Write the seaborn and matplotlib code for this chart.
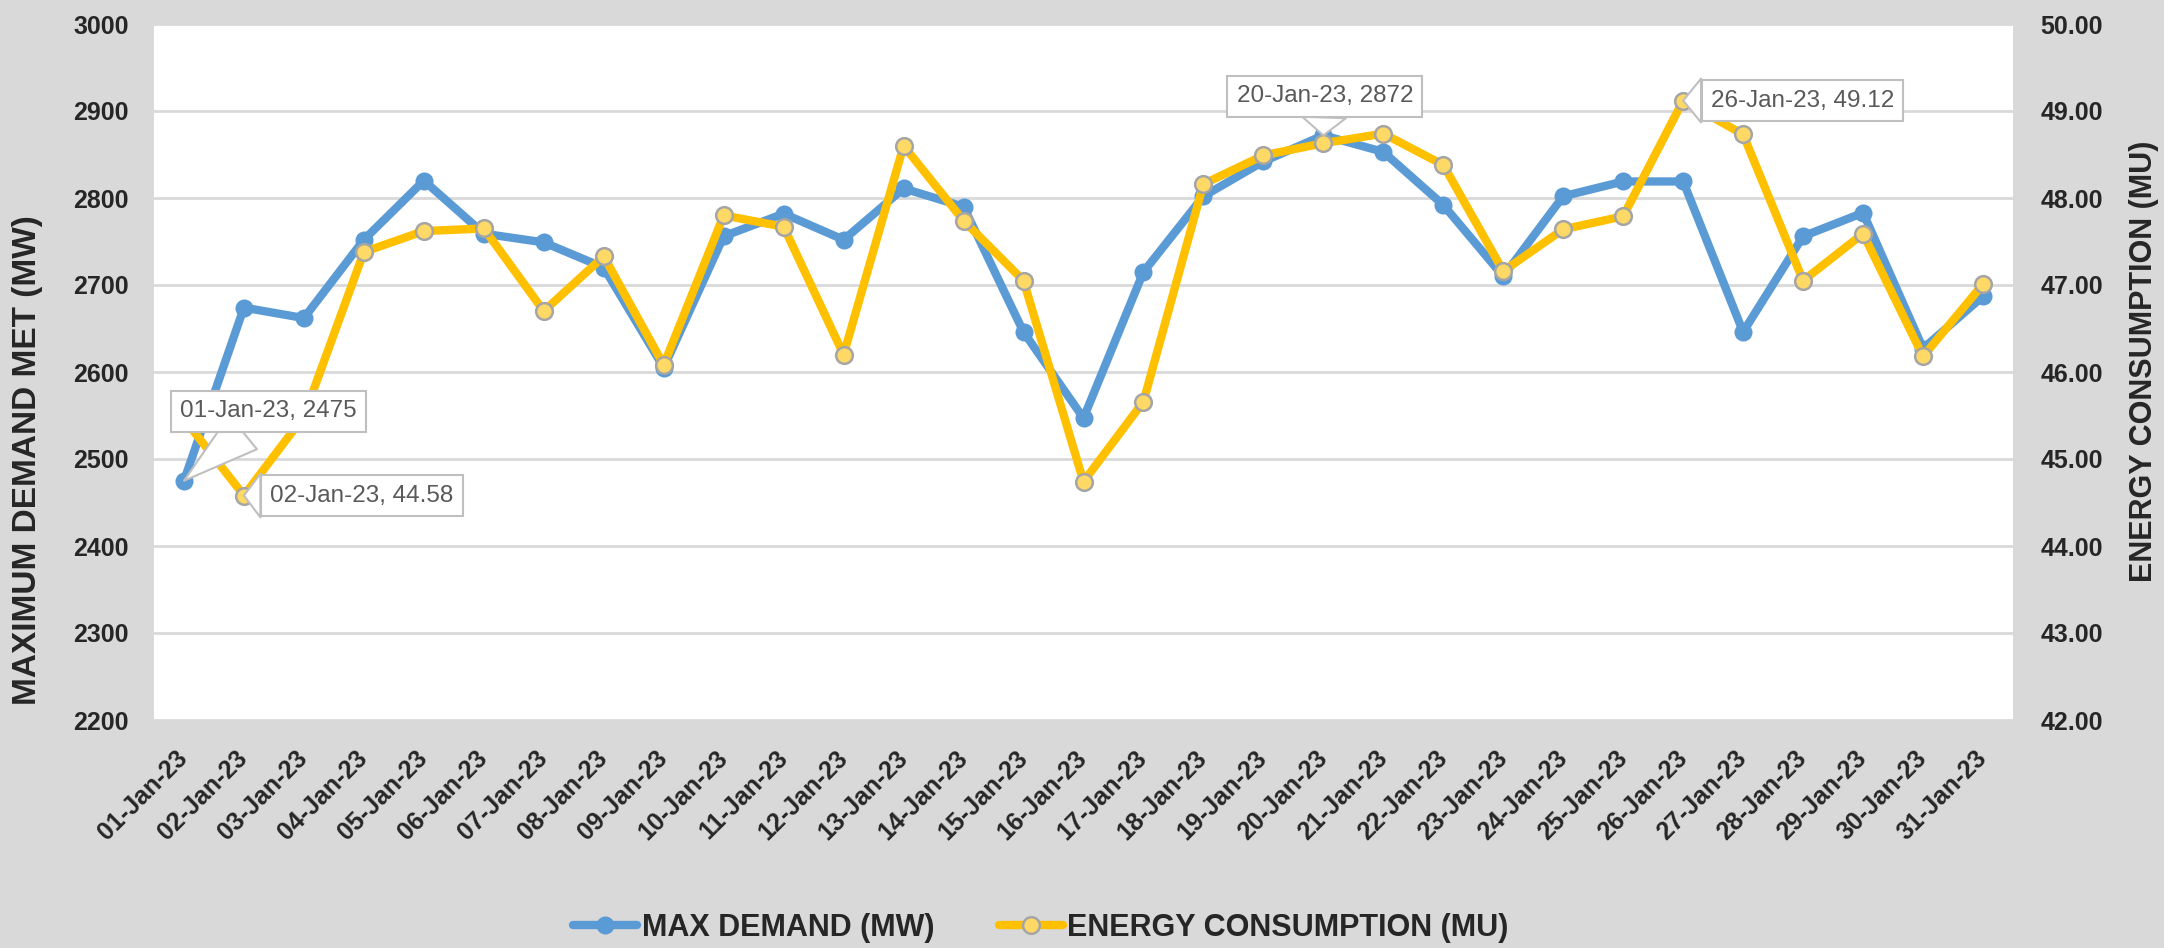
import matplotlib
matplotlib.use("Agg")
import matplotlib.pyplot as plt
from matplotlib.lines import Line2D
import seaborn as sns
import pandas as pd

dates = ["01-Jan-23", "02-Jan-23", "03-Jan-23", "04-Jan-23", "05-Jan-23", "06-Jan-23",
         "07-Jan-23", "08-Jan-23", "09-Jan-23", "10-Jan-23", "11-Jan-23", "12-Jan-23",
         "13-Jan-23", "14-Jan-23", "15-Jan-23", "16-Jan-23", "17-Jan-23", "18-Jan-23",
         "19-Jan-23", "20-Jan-23", "21-Jan-23", "22-Jan-23", "23-Jan-23", "24-Jan-23",
         "25-Jan-23", "26-Jan-23", "27-Jan-23", "28-Jan-23", "29-Jan-23", "30-Jan-23",
         "31-Jan-23"]

max_demand = [2475, 2674, 2662, 2752, 2820, 2759, 2749, 2720, 2605, 2756, 2782,
              2752, 2811, 2790, 2646, 2547, 2715, 2802, 2842, 2872, 2853, 2792,
              2710, 2802, 2819, 2819, 2646, 2756, 2783, 2627, 2687]

energy = [45.46, 44.58, 45.49, 47.38, 47.62, 47.65, 46.70, 47.33, 46.08, 47.80, 47.67,
          46.20, 48.60, 47.74, 47.05, 44.74, 45.66, 48.16, 48.49, 48.63, 48.74, 48.38,
          47.16, 47.64, 47.79, 49.12, 48.73, 47.05, 47.59, 46.18, 47.01]

left_ticks = [2200, 2300, 2400, 2500, 2600, 2700, 2800, 2900, 3000]
right_ticks = [42, 43, 44, 45, 46, 47, 48, 49, 50]

# which points carry a data label: (series, index)
callouts = [("demand", 0), ("energy", 1), ("demand", 19), ("energy", 25)]

BLUE = "#5B9BD5"
GOLD = "#FFC000"
GOLD_FACE = "#FFD966"
GREY_BG = "#D9D9D9"

sns.set_style("white")
plt.rcParams["font.family"] = ["Liberation Sans", "DejaVu Sans"]

df = pd.DataFrame({"date": dates, "demand": max_demand, "energy": energy})

fig = plt.figure(figsize=(21.64, 9.48), dpi=100, facecolor=GREY_BG)
ax = fig.add_axes([154 / 2164, 1 - 720 / 948, 1859 / 2164, 696 / 948])
ax.set_facecolor("white")
ax2 = ax.twinx()

sns.pointplot(data=df, x="date", y="demand", order=dates, ax=ax, color=BLUE,
              errorbar=None, linewidth=6, markersize=13, markeredgewidth=0)
sns.pointplot(data=df, x="date", y="energy", order=dates, ax=ax2, color=GOLD,
              errorbar=None, linewidth=6, markersize=12, markeredgewidth=1.8,
              markerfacecolor=GOLD_FACE, markeredgecolor="#A5A5A5")

ax.set_xlim(-0.5, len(dates) - 0.5)
ax.set_ylim(2200, 3000)
ax2.set_ylim(42, 50)
ax.set_yticks(left_ticks)
ax2.set_yticks(right_ticks)
ax2.set_yticklabels([f"{v:.2f}" for v in right_ticks])

ax.set_axisbelow(True)
ax.yaxis.grid(True, color=GREY_BG, linewidth=2)
ax.xaxis.grid(False)
ax2.grid(False)
for a in (ax, ax2):
    for s in a.spines.values():
        s.set_visible(False)
    a.set_xlabel("")
    a.set_ylabel("")

ax.tick_params(axis="y", length=0, pad=18, labelsize=18)
ax2.tick_params(axis="y", length=0, pad=20, labelsize=18)
for lab in ax.get_yticklabels() + ax2.get_yticklabels():
    lab.set_fontweight("bold")
ax.tick_params(axis="x", length=0, pad=25, labelsize=18)
ax.set_xticks(range(len(dates)))
ax.set_xticklabels(dates, rotation=45, ha="right", va="center",
                   rotation_mode="anchor", fontweight="bold")

fig.text(28 / 2164, 1 - 460 / 948, "MAXIMUM DEMAND MET (MW)", rotation=90,
         ha="center", va="center", fontsize=24, fontweight="bold")
fig.text(2144 / 2164, 1 - 361 / 948, "ENERGY CONSUMPTION (MU)", rotation=90,
         ha="center", va="center", fontsize=22, fontweight="bold")

# data callouts
offsets = {0: (61, 50), 1: (85, 0), 19: (1, 28), 25: (86, 0)}
for series, i in callouts:
    if series == "demand":
        xy, trans, txt = (i, max_demand[i]), ax.transData, f"{dates[i]}, {max_demand[i]}"
    else:
        xy, trans, txt = (i, energy[i]), ax2.transData, f"{dates[i]}, {energy[i]:.2f}"
    ax2.annotate(txt, xy=xy, xycoords=trans, xytext=offsets[i], textcoords="offset points",
                 ha="center", va="center", fontsize=17.5, color="#595959", zorder=10,
                 bbox=dict(boxstyle="square,pad=0.38", fc="white", ec="#BFBFBF", lw=1.5),
                 arrowprops=dict(arrowstyle="wedge,tail_width=1.8", fc="white",
                                 ec="#BFBFBF", lw=1.5, shrinkA=0, shrinkB=0))

handles = [
    Line2D([], [], color=BLUE, lw=6, marker="o", markersize=13, markeredgewidth=0),
    Line2D([], [], color=GOLD, lw=6, marker="o", markersize=12, markeredgewidth=1.8,
           markerfacecolor=GOLD_FACE, markeredgecolor="#A5A5A5"),
]
fig.legend(handles, ["MAX DEMAND (MW)", "ENERGY CONSUMPTION (MU)"], loc="center",
           bbox_to_anchor=(0.481, 0.021), ncol=2, frameon=False,
           prop=dict(size=22, weight="bold"), handlelength=2.1, handletextpad=0.15,
           columnspacing=2.1)

fig.savefig("out.png", dpi=100, facecolor=GREY_BG)
